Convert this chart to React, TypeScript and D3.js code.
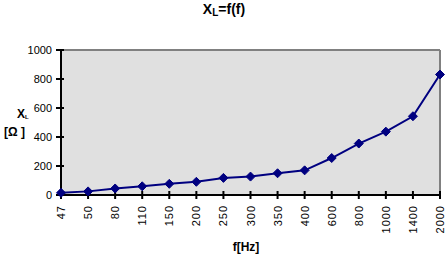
import React from "react";
import * as d3 from "d3";

const categories = ["47", "50", "80", "110", "150", "200", "250", "300", "350", "400", "600", "800", "1000", "1400", "2000"];
const xlValues = [15, 25, 45, 60, 77, 91, 118, 127, 150, 170, 255, 355, 437, 543, 831];
const yTicks = [0, 200, 400, 600, 800, 1000];

const W = 448;
const H = 258;
const plot = { left: 61, right: 440, top: 50, bottom: 195 };

export default function App() {
  const x = d3.scalePoint<string>().domain(categories).range([plot.left, plot.right]);
  const y = d3.scaleLinear().domain([0, 1000]).range([plot.bottom, plot.top]);
  const line = d3
    .line<number>()
    .x((_, i) => x(categories[i]) as number)
    .y((d) => y(d));
  const r = 4.5;
  const diamond = `M0,${-r}L${r},0L0,${r}L${-r},0Z`;
  const font = "Liberation Sans, Arial, sans-serif";

  return (
    <svg width={W} height={H} style={{ position: "absolute", left: 0, top: 0, background: "#fff" }} fontFamily={font}>
      <rect x={plot.left} y={plot.top} width={plot.right - plot.left} height={plot.bottom - plot.top} fill="#e0e0e0" />
      <line x1={plot.left} y1={plot.top} x2={plot.right} y2={plot.top} stroke="#808080" strokeWidth={2} />
      <line x1={plot.right} y1={plot.top} x2={plot.right} y2={plot.bottom} stroke="#808080" strokeWidth={2} />
      {yTicks.map((t) => (
        <g key={t}>
          <line x1={plot.left - 5} x2={plot.left + 3} y1={y(t)} y2={y(t)} stroke="#000" strokeWidth={2} />
          <text x={plot.left - 9} y={y(t) + 4} textAnchor="end" fontSize={11} fill="#000">
            {t}
          </text>
        </g>
      ))}
      {categories.map((c) => (
        <g key={c}>
          <line x1={x(c)} x2={x(c)} y1={plot.bottom - 4} y2={plot.bottom + 4} stroke="#000" strokeWidth={2} />
          <text
            transform={`translate(${(x(c) as number) + 4},${plot.bottom + 10}) rotate(-90)`}
            textAnchor="end"
            fontSize={11}
            letterSpacing={1}
            fill="#000"
          >
            {c}
          </text>
        </g>
      ))}
      <line x1={plot.left} y1={plot.top} x2={plot.left} y2={plot.bottom} stroke="#000" strokeWidth={2} />
      <line x1={plot.left} y1={plot.bottom} x2={plot.right + 1} y2={plot.bottom} stroke="#000" strokeWidth={2} />
      <path d={line(xlValues) as string} fill="none" stroke="#000080" strokeWidth={2} />
      {xlValues.map((v, i) => (
        <path key={i} d={diamond} transform={`translate(${x(categories[i])},${y(v)})`} fill="#000080" stroke="#000080" strokeWidth={1} />
      ))}
      <text x={224} y={14} textAnchor="middle" fontSize={14} fontWeight="bold" fill="#000">
        X<tspan fontSize={10} dy={2}>L</tspan>
        <tspan dy={-2}>=f(f)</tspan>
      </text>
      <text x={17} y={118} fontSize={12} fontWeight="bold" fill="#000">
        X<tspan fontSize={6} dy={1}>L</tspan>
      </text>
      <text x={4} y={136} fontSize={12} fontWeight="bold" fill="#000">
        [Ω ]
      </text>
      <text x={246} y={251} textAnchor="middle" fontSize={12} fontWeight="bold" fill="#000">
        f[Hz]
      </text>
    </svg>
  );
}
